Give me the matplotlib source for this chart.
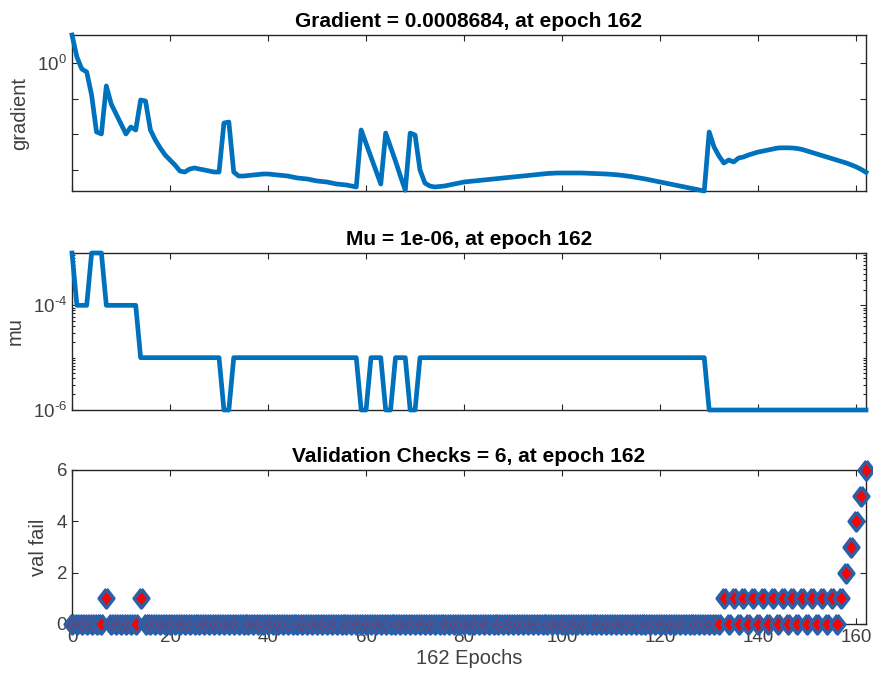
import matplotlib
matplotlib.use("Agg")
import matplotlib.pyplot as plt
import numpy as np
from matplotlib.ticker import FixedLocator, FixedFormatter, NullLocator, NullFormatter, LogLocator

# ---------------- data ----------------
grad = [
    6.08, 1.47, 0.679, 0.56, 0.127, 0.0117, 0.0103, 0.227, 0.0711, 0.0373,
    0.0196, 0.0103, 0.0161, 0.0133, 0.092, 0.0862, 0.0133, 0.00697, 0.00416, 0.00265,
    0.00192, 0.00139, 0.000944, 0.000885, 0.00107, 0.00115, 0.00107, 0.00101, 0.000944, 0.000885,
    0.000885, 0.0208, 0.0222, 0.000885, 0.000684, 0.000684, 0.000706, 0.000729, 0.000753, 0.000778,
    0.000778, 0.000753, 0.000729, 0.000706, 0.000684, 0.000641, 0.000601, 0.000582, 0.000564, 0.000529,
    0.000496, 0.00048, 0.000465, 0.000436, 0.000408, 0.000395, 0.000383, 0.000359, 0.000337, 0.0133,
    0.00556, 0.00233, 0.000975, 0.000408, 0.0109, 0.00444, 0.0018, 0.000684, 0.000272, 0.0109,
    0.00962, 0.00101, 0.000436, 0.000359, 0.000337, 0.000348, 0.000359, 0.000383, 0.000408, 0.000436,
    0.000465, 0.00048, 0.000496, 0.000512, 0.000529, 0.000546, 0.000564, 0.000582, 0.000601, 0.000621,
    0.000641, 0.000662, 0.000684, 0.000706, 0.000729, 0.000753, 0.000778, 0.000804, 0.000815, 0.00083,
    0.00083, 0.00083, 0.00083, 0.00083, 0.00083, 0.00082, 0.00081, 0.000799, 0.000788, 0.000778,
    0.000763, 0.000743, 0.00072, 0.000692, 0.000662, 0.000629, 0.000594, 0.000564, 0.000529, 0.000496,
    0.000465, 0.000436, 0.000408, 0.000383, 0.000359, 0.000337, 0.000316, 0.000296, 0.000277, 0.00026,
    0.0117, 0.00444, 0.00248, 0.00158, 0.00192, 0.00169, 0.00218, 0.00233, 0.00265, 0.00292,
    0.00321, 0.00343, 0.00366, 0.0039, 0.00416, 0.00421, 0.00421, 0.00416, 0.00403, 0.00378,
    0.00343, 0.00311, 0.00282, 0.00256, 0.00233, 0.00211, 0.00192, 0.00174, 0.00158, 0.0014,
    0.00123, 0.00105, 0.0008684,
]

mu = [
    1e-3, 1e-4, 1e-4, 1e-4, 1e-3, 1e-3, 1e-3, 1e-4, 1e-4, 1e-4,
    1e-4, 1e-4, 1e-4, 1e-4, 1e-5, 1e-5, 1e-5, 1e-5, 1e-5, 1e-5,
    1e-5, 1e-5, 1e-5, 1e-5, 1e-5, 1e-5, 1e-5, 1e-5, 1e-5, 1e-5,
    1e-5, 1e-6, 1e-6, 1e-5, 1e-5, 1e-5, 1e-5, 1e-5, 1e-5, 1e-5,
    1e-5, 1e-5, 1e-5, 1e-5, 1e-5, 1e-5, 1e-5, 1e-5, 1e-5, 1e-5,
    1e-5, 1e-5, 1e-5, 1e-5, 1e-5, 1e-5, 1e-5, 1e-5, 1e-5, 1e-6,
    1e-6, 1e-5, 1e-5, 1e-5, 1e-6, 1e-6, 1e-5, 1e-5, 1e-5, 1e-6,
    1e-6, 1e-5, 1e-5, 1e-5, 1e-5, 1e-5, 1e-5, 1e-5, 1e-5, 1e-5,
    1e-5, 1e-5, 1e-5, 1e-5, 1e-5, 1e-5, 1e-5, 1e-5, 1e-5, 1e-5,
    1e-5, 1e-5, 1e-5, 1e-5, 1e-5, 1e-5, 1e-5, 1e-5, 1e-5, 1e-5,
    1e-5, 1e-5, 1e-5, 1e-5, 1e-5, 1e-5, 1e-5, 1e-5, 1e-5, 1e-5,
    1e-5, 1e-5, 1e-5, 1e-5, 1e-5, 1e-5, 1e-5, 1e-5, 1e-5, 1e-5,
    1e-5, 1e-5, 1e-5, 1e-5, 1e-5, 1e-5, 1e-5, 1e-5, 1e-5, 1e-5,
    1e-6, 1e-6, 1e-6, 1e-6, 1e-6, 1e-6, 1e-6, 1e-6, 1e-6, 1e-6,
    1e-6, 1e-6, 1e-6, 1e-6, 1e-6, 1e-6, 1e-6, 1e-6, 1e-6, 1e-6,
    1e-6, 1e-6, 1e-6, 1e-6, 1e-6, 1e-6, 1e-6, 1e-6, 1e-6, 1e-6,
    1e-6, 1e-6, 1e-6,
]

val_fail = [
    0, 0, 0, 0, 0, 0, 0, 1, 0, 0,
    0, 0, 0, 0, 1, 0, 0, 0, 0, 0,
    0, 0, 0, 0, 0, 0, 0, 0, 0, 0,
    0, 0, 0, 0, 0, 0, 0, 0, 0, 0,
    0, 0, 0, 0, 0, 0, 0, 0, 0, 0,
    0, 0, 0, 0, 0, 0, 0, 0, 0, 0,
    0, 0, 0, 0, 0, 0, 0, 0, 0, 0,
    0, 0, 0, 0, 0, 0, 0, 0, 0, 0,
    0, 0, 0, 0, 0, 0, 0, 0, 0, 0,
    0, 0, 0, 0, 0, 0, 0, 0, 0, 0,
    0, 0, 0, 0, 0, 0, 0, 0, 0, 0,
    0, 0, 0, 0, 0, 0, 0, 0, 0, 0,
    0, 0, 0, 0, 0, 0, 0, 0, 0, 0,
    0, 0, 0, 1, 0, 1, 0, 1, 0, 1,
    0, 1, 0, 1, 0, 1, 0, 1, 0, 1,
    0, 1, 0, 1, 0, 1, 0, 1, 2, 3,
    4, 5, 6,
]

x_ticks = [0, 20, 40, 60, 80, 100, 120, 140, 160]
grad_ticks = [1e-3, 1e-2, 1e-1, 1e0]
grad_ticklabels = ["", "", "", "$10^{0}$"]
mu_ticks = [1e-6, 1e-4]
mu_ticklabels = [r"$10^{\text{-}6}$", r"$10^{\text{-}4}$"]
val_ticks = [0, 2, 4, 6]

# ---------------- style ----------------
plt.rcParams["font.family"] = ["Liberation Sans", "DejaVu Sans"]
plt.rcParams["mathtext.default"] = "regular"
plt.rcParams["mathtext.fontset"] = "custom"
plt.rcParams["mathtext.rm"] = "Liberation Sans"

BLUE = "#0072BD"
EDGE = "#2d5fa6"
AXC = "#262626"
TXT = "#404040"
TICK_FS = 13.5
LAB_FS = 14.5
TITLE_FS = 15

epochs = np.arange(len(grad))
n_ep = len(grad) - 1

W, H = 873, 679
fig = plt.figure(figsize=(W / 100, H / 100), dpi=100)


def ax_at(l, t, r, b):
    return fig.add_axes([l / W, 1 - b / H, (r - l) / W, (b - t) / H])


def style(ax):
    for s in ax.spines.values():
        s.set_color(AXC)
        s.set_linewidth(1.0)
        s.set_zorder(1)
    ax.tick_params(which="both", direction="in", top=True, right=True,
                   color=AXC, labelcolor=TXT, labelsize=TICK_FS, width=0.8)
    ax.tick_params(which="major", length=4)
    ax.tick_params(which="minor", length=2)
    ax.set_xlim(0, n_ep)
    ax.xaxis.set_major_locator(FixedLocator(x_ticks))


ax1 = ax_at(72, 35, 866, 191)
ax2 = ax_at(72, 253, 866, 410)
ax3 = ax_at(72, 470, 866, 624)

# gradient
ax1.plot(epochs, grad, color=BLUE, lw=3.4, solid_joinstyle="round",
         clip_on=False, zorder=3)
ax1.set_yscale("log")
style(ax1)
ax1.set_ylim(min(grad), max(grad))
ax1.yaxis.set_major_locator(FixedLocator(grad_ticks))
ax1.yaxis.set_major_formatter(FixedFormatter(grad_ticklabels))
ax1.yaxis.set_minor_locator(NullLocator())
ax1.yaxis.set_minor_formatter(NullFormatter())
ax1.set_xticklabels([])
ax1.set_ylabel("gradient", fontsize=LAB_FS, color=TXT, labelpad=6)
ax1.set_title(f"Gradient = {grad[-1]:.7f}, at epoch {n_ep}",
              fontsize=TITLE_FS, fontweight="bold", pad=6)

# mu
ax2.plot(epochs, mu, color=BLUE, lw=3.4, solid_joinstyle="round",
         clip_on=False, zorder=3)
ax2.set_yscale("log")
style(ax2)
ax2.set_ylim(1e-6, 1e-3)
ax2.yaxis.set_major_locator(FixedLocator(mu_ticks))
ax2.yaxis.set_major_formatter(FixedFormatter(mu_ticklabels))
ax2.yaxis.set_minor_locator(LogLocator(base=10, subs=np.arange(1, 10), numticks=20))
ax2.yaxis.set_minor_formatter(NullFormatter())
ax2.set_xticklabels([])
ax2.set_ylabel("mu", fontsize=LAB_FS, color=TXT, labelpad=6)
ax2.set_title(f"Mu = {mu[-1]:.0e}, at epoch {n_ep}",
              fontsize=TITLE_FS, fontweight="bold", pad=6)

# validation checks
diamond = [(0, 1), (0.78, 0), (0, -1), (-0.78, 0), (0, 1)]
ax3.plot(epochs, val_fail, linestyle="none", marker=diamond, markersize=13.5,
         markerfacecolor="red", markeredgecolor=EDGE, markeredgewidth=2.6,
         clip_on=False, zorder=3)
style(ax3)
ax3.set_ylim(0, 6)
ax3.yaxis.set_major_locator(FixedLocator(val_ticks))
ax3.set_ylabel("val fail", fontsize=LAB_FS, color=TXT, labelpad=6)
ax3.set_xlabel(f"{n_ep} Epochs", fontsize=LAB_FS, color=TXT, labelpad=2)
ax3.set_title(f"Validation Checks = {val_fail[-1]}, at epoch {n_ep}",
              fontsize=TITLE_FS, fontweight="bold", pad=6)

fig.savefig("out.png", dpi=100)
